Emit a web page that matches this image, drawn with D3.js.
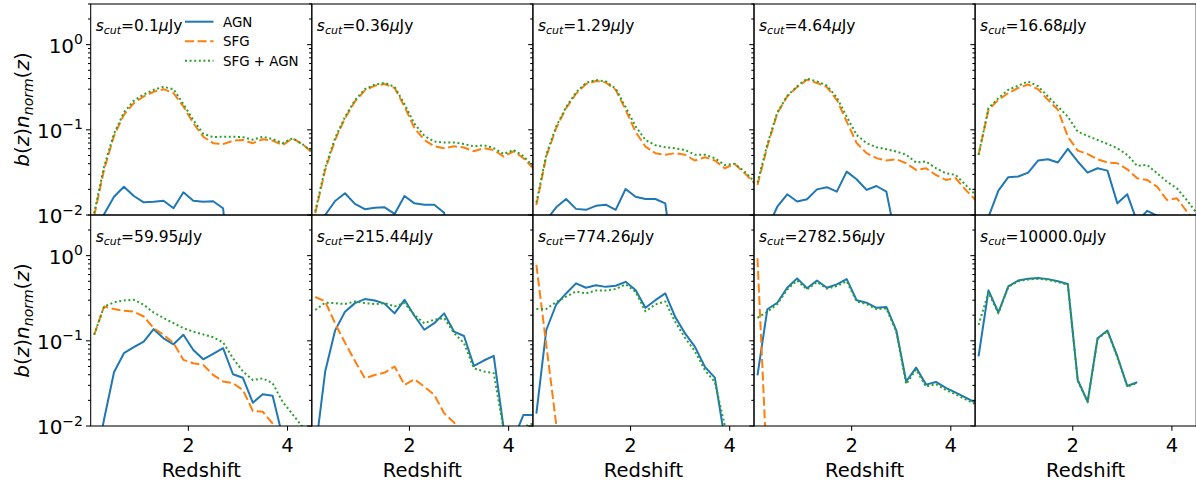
<!DOCTYPE html>
<html><head><meta charset="utf-8">
<script src="https://cdn.jsdelivr.net/npm/d3@7"></script>
<style>body{margin:0;background:#fff} svg{display:block} text{font-family:"DejaVu Sans",sans-serif;fill:#000}</style>
</head><body><svg id="c" width="1196" height="485"></svg>
<script>
// ---------------- data ----------------
const redshift = [0.1,0.3,0.5,0.7,0.9,1.1,1.3,1.5,1.7,1.9,2.1,2.3,2.5,2.7,2.9,3.1,3.3,3.5,3.7,3.9,4.1,4.3,4.5];
const cutLabels = ["0.1","0.36","1.29","4.64","16.68","59.95","215.44","774.26","2782.56","10000.0"];
const seriesNames = ["AGN","SFG","SFG + AGN"];
const xTicks = [2, 4];
const yMajorTicks = [0.01, 0.1, 1];

const agn1 = [0.004,0.0102,0.0164,0.0215,0.0167,0.0141,0.0143,0.0147,0.0120,0.0185,0.0147,0.0143,0.0145,0.0120,0.001,null,null,null,null,null,null,null,null];
const sfg1 = [0.0098,0.034,0.085,0.15,0.206,0.247,0.28,0.30,0.27,0.188,0.12,0.083,0.0697,0.068,0.0745,0.0758,0.0697,0.0775,0.0745,0.066,0.0796,0.0677,0.054];
const tot1 = [0.0105,0.037,0.09,0.16,0.22,0.26,0.295,0.32,0.30,0.20,0.13,0.09,0.082,0.083,0.083,0.082,0.0765,0.083,0.078,0.0697,0.0796,0.068,0.055];

const agn2 = [0.004,0.0100,0.0146,0.018,0.0135,0.0117,0.0122,0.0123,0.0103,0.0167,0.0137,0.0132,0.0132,0.0106,0.001,null,null,null,null,null,null,null,null];
const sfg2 = [0.0105,0.0339,0.0763,0.137,0.215,0.29,0.33,0.345,0.31,0.188,0.105,0.076,0.064,0.0609,0.064,0.062,0.056,0.061,0.058,0.0485,0.056,0.0464,0.035];
const tot2 = [0.011,0.036,0.08,0.142,0.222,0.30,0.34,0.355,0.32,0.20,0.118,0.085,0.073,0.071,0.071,0.068,0.064,0.066,0.061,0.052,0.058,0.049,0.037];

const agn3 = [0.003,0.0087,0.0123,0.0154,0.0118,0.0115,0.0128,0.0132,0.0115,0.0202,0.0164,0.0154,0.0154,0.0137,0.002,null,null,null,null,null,null,null,null];
const sfg3 = [0.0131,0.0486,0.105,0.18,0.265,0.345,0.375,0.36,0.295,0.172,0.095,0.0636,0.0532,0.0509,0.0532,0.0509,0.0436,0.0477,0.0436,0.0354,0.0398,0.031,0.0236];
const tot3 = [0.014,0.051,0.11,0.185,0.275,0.355,0.385,0.37,0.305,0.185,0.11,0.076,0.066,0.0625,0.0606,0.058,0.051,0.051,0.0465,0.0387,0.04,0.0323,0.0246];

const agn4 = [0.003,0.007,0.0125,0.0175,0.0144,0.0153,0.02,0.0212,0.0188,0.0323,0.0263,0.0197,0.0219,0.0188,0.005,null,null,null,null,null,null,null,null];
const sfg4 = [0.0225,0.0637,0.157,0.247,0.317,0.387,0.355,0.317,0.225,0.125,0.07,0.0532,0.0465,0.0436,0.0451,0.0405,0.0338,0.0354,0.0295,0.0258,0.027,0.0197,0.015];
const tot4 = [0.024,0.068,0.16,0.25,0.325,0.40,0.37,0.33,0.24,0.143,0.087,0.0698,0.0625,0.059,0.0556,0.051,0.0413,0.0425,0.0354,0.0309,0.0295,0.0225,0.0172];

const agn5 = [0.004,0.0095,0.0193,0.0278,0.0283,0.0315,0.0436,0.0451,0.0413,0.0597,0.0425,0.0315,0.0354,0.0332,0.0137,0.0175,0.0083,0.0112,0.0098,0.005,null,null,null];
const sfg5 = [0.0508,0.172,0.225,0.27,0.31,0.34,0.30,0.225,0.172,0.0832,0.057,0.052,0.045,0.0413,0.0405,0.0344,0.027,0.0258,0.0215,0.015,0.0157,0.011,0.008];
const tot5 = [0.0508,0.18,0.235,0.295,0.33,0.37,0.325,0.246,0.188,0.143,0.095,0.085,0.076,0.0684,0.0606,0.0508,0.0377,0.0387,0.0309,0.0246,0.0206,0.015,0.0105];

const agn6 = [0.003,0.012,0.0428,0.0716,0.0843,0.098,0.137,0.107,0.091,0.118,0.078,0.0607,0.0703,0.082,0.0405,0.0368,0.0188,0.0236,0.0227,0.0075,null,null,null];
const sfg6 = [0.1177,0.253,0.236,0.225,0.22,0.193,0.141,0.118,0.0945,0.0597,0.0546,0.0522,0.0398,0.0333,0.0318,0.0265,0.015,0.0147,0.0107,0.007,null,null,null];
const tot6 = [0.118,0.253,0.283,0.298,0.303,0.265,0.215,0.185,0.161,0.141,0.128,0.119,0.11,0.096,0.0625,0.0436,0.0347,0.0363,0.0318,0.0193,0.0138,0.0098,0.007];

const agn7 = [0.005,0.0436,0.132,0.22,0.277,0.309,0.297,0.273,0.21,0.303,0.197,0.135,0.161,0.21,0.128,0.114,0.0507,0.0587,0.0665,0.0094,0.0071,0.0135,0.0135];
const sfg7 = [0.327,0.29,0.16,0.095,0.058,0.0363,0.0397,0.0424,0.0499,0.0304,0.0354,0.029,0.0232,0.0141,0.011,0.006,null,null,null,null,null,null,null];
const tot7 = [0.23,0.28,0.277,0.27,0.29,0.277,0.27,0.277,0.254,0.277,0.2,0.161,0.177,0.185,0.123,0.094,0.0476,0.0436,0.0417,0.009,0.0085,0.0098,0.0107];

const agn8 = [0.014,0.134,0.267,0.36,0.473,0.42,0.45,0.43,0.443,0.493,0.394,0.244,0.30,0.36,0.191,0.122,0.0848,0.0494,0.037,0.007,null,null,null];
const sfg8 = [0.78,0.09,0.0105,0.001,null,null,null,null,null,null,null,null,null,null,null,null,null,null,null,null,null,null,null];
const tot8 = [0.236,0.236,0.286,0.33,0.38,0.36,0.39,0.39,0.405,0.46,0.377,0.222,0.267,0.29,0.167,0.108,0.0752,0.0452,0.0329,0.0102,0.005,null,null];

const agn9 = [0.0394,0.235,0.28,0.42,0.541,0.415,0.51,0.42,0.46,0.53,0.30,0.28,0.244,0.25,0.133,0.0333,0.0485,0.0306,0.0329,0.028,0.0246,0.0215,0.0188];
const sfg9 = [0.93,0.0025,null,null,null,null,null,null,null,null,null,null,null,null,null,null,null,null,null,null,null,null,null];
const tot9 = [0.186,0.22,0.27,0.40,0.51,0.40,0.49,0.41,0.44,0.50,0.29,0.27,0.235,0.24,0.128,0.031,0.046,0.029,0.031,0.0265,0.0235,0.0205,0.018];

const agn10 = [0.0655,0.391,0.215,0.435,0.51,0.537,0.546,0.53,0.50,0.465,0.0347,0.0193,0.107,0.132,0.0655,0.0295,0.0326,null,null,null,null,null,null];
const sfg10 = [null,null,null,null,null,null,null,null,null,null,null,null,null,null,null,null,null,null,null,null,null,null,null];
const tot10 = [0.154,0.37,0.21,0.43,0.50,0.525,0.535,0.52,0.49,0.455,0.034,0.019,0.105,0.13,0.064,0.029,0.032,null,null,null,null,null,null];

const agnAll = [agn1,agn2,agn3,agn4,agn5,agn6,agn7,agn8,agn9,agn10];
const sfgAll = [sfg1,sfg2,sfg3,sfg4,sfg5,sfg6,sfg7,sfg8,sfg9,sfg10];
const totAll = [tot1,tot2,tot3,tot4,tot5,tot6,tot7,tot8,tot9,tot10];

// ---------------- layout / style ----------------
const colors = ["#1f77b4","#ff7f0e","#2ca02c"];
const dashes = [null, "9,3.6", "2,2.6"];
const left0 = 90.7, pw = 221.1, top0 = 4, ph = 211;

const svg = d3.select("#c");
const x = d3.scaleLinear().domain([0.03, 4.49]).range([0, pw]);
const y = d3.scaleLog().domain([0.01, 3]).range([ph, 0]);

svg.append("defs").append("clipPath").attr("id","clip")
  .append("rect").attr("x",0).attr("y",0).attr("width",pw).attr("height",ph);

const line = d3.line()
  .defined(d => d[1] != null && d[1] > 0)
  .x(d => x(d[0])).y(d => y(d[1]));

const allTicks = y.ticks().filter(v => v <= 3.0001);
const isMajor = v => Math.abs(Math.log10(v) - Math.round(Math.log10(v))) < 1e-9;
const supText = {"0.01":"\u22122","0.1":"\u22121","1":"0"};

for (let i = 0; i < 10; i++) {
  const col = i % 5, row = Math.floor(i / 5);
  const g = svg.append("g").attr("transform", `translate(${left0 + col*pw},${top0 + row*ph})`);
  const plot = g.append("g").attr("clip-path","url(#clip)");
  [agnAll[i], sfgAll[i], totAll[i]].forEach((vals, k) => {
    const pts = redshift.map((z, j) => [z, vals[j]]);
    const p = plot.append("path").attr("d", line(pts))
      .attr("fill","none").attr("stroke", colors[k]).attr("stroke-width", 2)
      .attr("stroke-linejoin","round");
    if (dashes[k]) p.attr("stroke-dasharray", dashes[k]);
  });
  // spines
  g.append("rect").attr("x",0).attr("y",0).attr("width",pw).attr("height",ph)
    .attr("fill","none").attr("stroke","#000").attr("stroke-width",1.05);
  // y ticks
  allTicks.forEach(v => {
    const len = isMajor(v) ? 4.7 : 2.7;
    g.append("line").attr("x1",0).attr("x2",-len).attr("y1",y(v)).attr("y2",y(v))
      .attr("stroke","#000").attr("stroke-width",1.05);
  });
  if (col === 0) {
    yMajorTicks.forEach(v => {
      const t = g.append("text").attr("x",-7.7).attr("y", y(v) + 8)
        .attr("text-anchor","end").style("font-size","20px");
      t.append("tspan").text("10");
      t.append("tspan").attr("dy",-8.5).style("font-size","14px").text(supText[String(v)]);
    });
    // y label
    const yl = svg.append("text")
      .attr("transform", `translate(29,${top0 + row*ph + ph/2}) rotate(-90)`)
      .attr("text-anchor","middle").style("font-size","20px");
    yl.append("tspan").style("font-style","italic").text("b");
    yl.append("tspan").text("(");
    yl.append("tspan").style("font-style","italic").text("z");
    yl.append("tspan").text(")");
    yl.append("tspan").style("font-style","italic").text("n");
    yl.append("tspan").style("font-style","italic").style("font-size","14px").attr("dy",4).text("norm");
    yl.append("tspan").attr("dy",-4).text("(");
    yl.append("tspan").style("font-style","italic").text("z");
    yl.append("tspan").text(")");
  }
  if (row === 1) {
    xTicks.forEach(v => {
      g.append("line").attr("x1",x(v)).attr("x2",x(v)).attr("y1",ph).attr("y2",ph+4.7)
        .attr("stroke","#000").attr("stroke-width",1.05);
      g.append("text").attr("x",x(v)).attr("y",ph+26).attr("text-anchor","middle")
        .style("font-size","19.5px").text(v);
    });
    g.append("text").attr("x",pw/2).attr("y",ph+50.5).attr("text-anchor","middle")
      .style("font-size","19.5px").text("Redshift");
  }
  // panel annotation
  const a = g.append("text").attr("x",5).attr("y",27).style("font-size","15.5px");
  a.append("tspan").style("font-style","italic").text("s");
  a.append("tspan").style("font-style","italic").style("font-size","11px").attr("dy",3).text("cut");
  a.append("tspan").attr("dy",-3).text("=" + cutLabels[i]);
  a.append("tspan").style("font-style","italic").text("\u03bc");
  a.append("tspan").text("Jy");

  if (i === 0) {
    const ly = [21.7, 41.2, 60.7];
    seriesNames.forEach((nm, k) => {
      const l = g.append("line").attr("x1",185-left0).attr("x2",213.5-left0)
        .attr("y1",ly[k]-top0).attr("y2",ly[k]-top0)
        .attr("stroke",colors[k]).attr("stroke-width",2);
      if (dashes[k]) l.attr("stroke-dasharray", dashes[k]);
      g.append("text").attr("x",223-left0).attr("y",ly[k]-top0+4.8)
        .style("font-size","13.4px").text(nm);
    });
  }
}
</script></body></html>
